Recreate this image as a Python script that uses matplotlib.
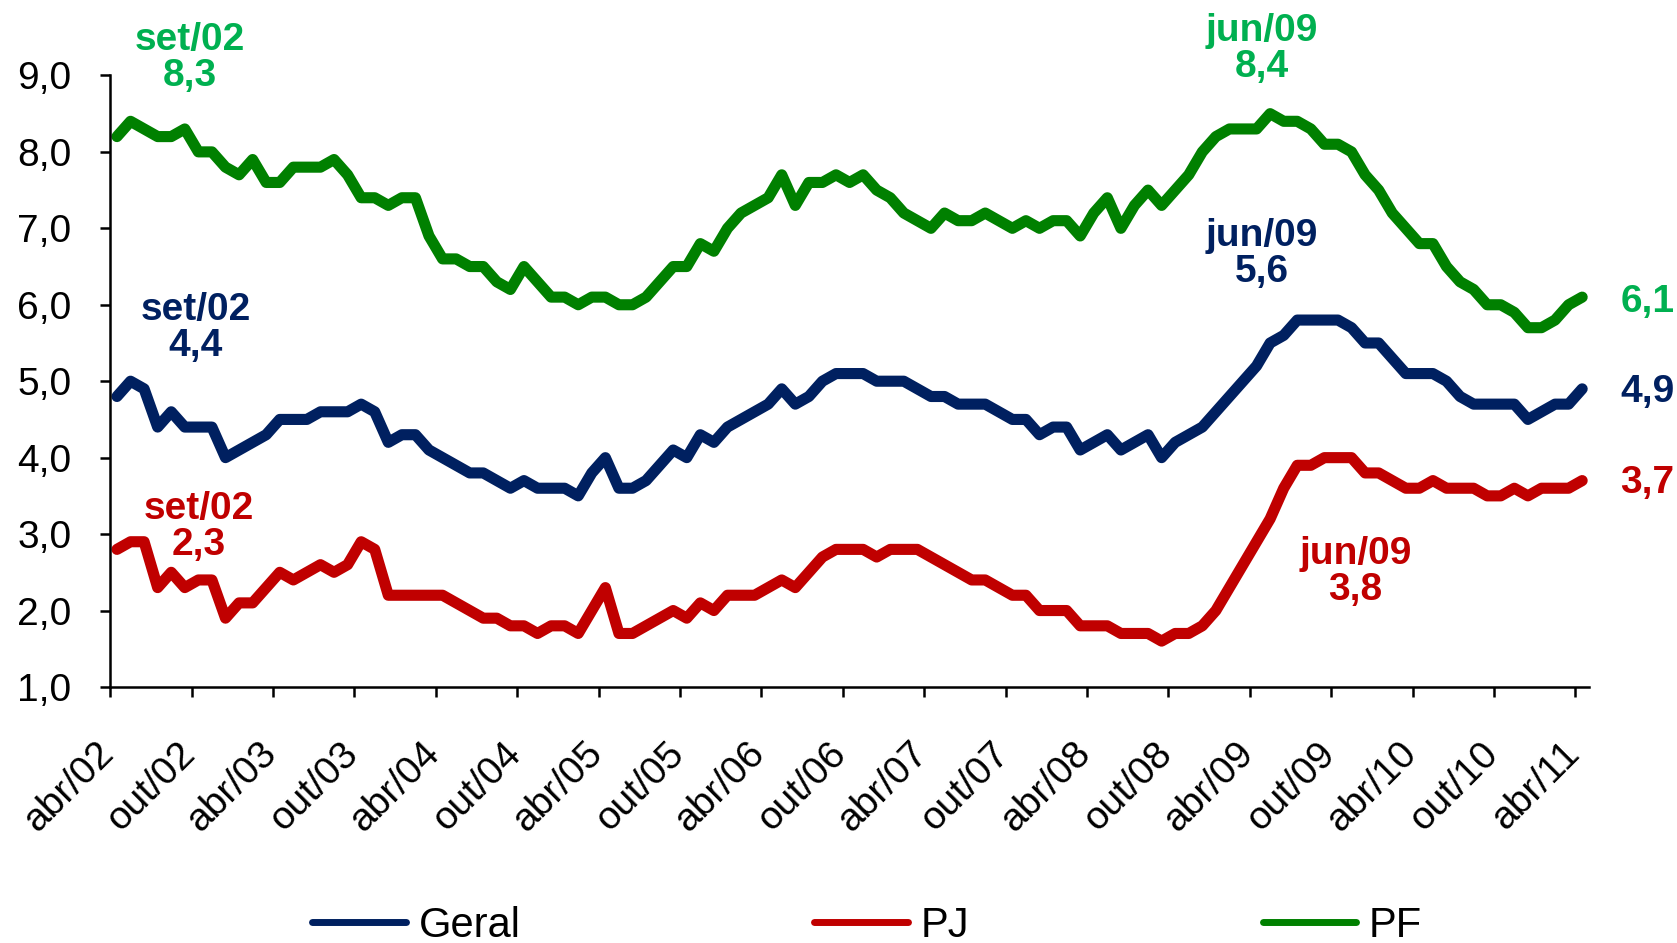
import numpy as np
import matplotlib
matplotlib.use('Agg')
import matplotlib.pyplot as plt
import matplotlib.transforms as mtransforms
from matplotlib.lines import Line2D

plt.rcParams['font.family'] = ['Liberation Sans', 'DejaVu Sans']

# monthly series, abr/02 .. abr/11
geral = [4.8, 5.0, 4.9, 4.4, 4.6, 4.4, 4.4, 4.4, 4.0, 4.1, 4.2, 4.3, 4.5, 4.5, 4.5, 4.6, 4.6, 4.6,
         4.7, 4.6, 4.2, 4.3, 4.3, 4.1, 4.0, 3.9, 3.8, 3.8, 3.7, 3.6, 3.7, 3.6, 3.6, 3.6, 3.5, 3.8,
         4.0, 3.6, 3.6, 3.7, 3.9, 4.1, 4.0, 4.3, 4.2, 4.4, 4.5, 4.6, 4.7, 4.9, 4.7, 4.8, 5.0, 5.1,
         5.1, 5.1, 5.0, 5.0, 5.0, 4.9, 4.8, 4.8, 4.7, 4.7, 4.7, 4.6, 4.5, 4.5, 4.3, 4.4, 4.4, 4.1,
         4.2, 4.3, 4.1, 4.2, 4.3, 4.0, 4.2, 4.3, 4.4, 4.6, 4.8, 5.0, 5.2, 5.5, 5.6, 5.8, 5.8, 5.8,
         5.8, 5.7, 5.5, 5.5, 5.3, 5.1, 5.1, 5.1, 5.0, 4.8, 4.7, 4.7, 4.7, 4.7, 4.5, 4.6, 4.7, 4.7,
         4.9]
pj = [2.8, 2.9, 2.9, 2.3, 2.5, 2.3, 2.4, 2.4, 1.9, 2.1, 2.1, 2.3, 2.5, 2.4, 2.5, 2.6, 2.5, 2.6,
      2.9, 2.8, 2.2, 2.2, 2.2, 2.2, 2.2, 2.1, 2.0, 1.9, 1.9, 1.8, 1.8, 1.7, 1.8, 1.8, 1.7, 2.0,
      2.3, 1.7, 1.7, 1.8, 1.9, 2.0, 1.9, 2.1, 2.0, 2.2, 2.2, 2.2, 2.3, 2.4, 2.3, 2.5, 2.7, 2.8,
      2.8, 2.8, 2.7, 2.8, 2.8, 2.8, 2.7, 2.6, 2.5, 2.4, 2.4, 2.3, 2.2, 2.2, 2.0, 2.0, 2.0, 1.8,
      1.8, 1.8, 1.7, 1.7, 1.7, 1.6, 1.7, 1.7, 1.8, 2.0, 2.3, 2.6, 2.9, 3.2, 3.6, 3.9, 3.9, 4.0,
      4.0, 4.0, 3.8, 3.8, 3.7, 3.6, 3.6, 3.7, 3.6, 3.6, 3.6, 3.5, 3.5, 3.6, 3.5, 3.6, 3.6, 3.6,
      3.7]
pf = [8.2, 8.4, 8.3, 8.2, 8.2, 8.3, 8.0, 8.0, 7.8, 7.7, 7.9, 7.6, 7.6, 7.8, 7.8, 7.8, 7.9, 7.7,
      7.4, 7.4, 7.3, 7.4, 7.4, 6.9, 6.6, 6.6, 6.5, 6.5, 6.3, 6.2, 6.5, 6.3, 6.1, 6.1, 6.0, 6.1,
      6.1, 6.0, 6.0, 6.1, 6.3, 6.5, 6.5, 6.8, 6.7, 7.0, 7.2, 7.3, 7.4, 7.7, 7.3, 7.6, 7.6, 7.7,
      7.6, 7.7, 7.5, 7.4, 7.2, 7.1, 7.0, 7.2, 7.1, 7.1, 7.2, 7.1, 7.0, 7.1, 7.0, 7.1, 7.1, 6.9,
      7.2, 7.4, 7.0, 7.3, 7.5, 7.3, 7.5, 7.7, 8.0, 8.2, 8.3, 8.3, 8.3, 8.5, 8.4, 8.4, 8.3, 8.1,
      8.1, 8.0, 7.7, 7.5, 7.2, 7.0, 6.8, 6.8, 6.5, 6.3, 6.2, 6.0, 6.0, 5.9, 5.7, 5.7, 5.8, 6.0,
      6.1]

tick_labels = ['abr/02', 'out/02', 'abr/03', 'out/03', 'abr/04', 'out/04', 'abr/05', 'out/05',
               'abr/06', 'out/06', 'abr/07', 'out/07', 'abr/08', 'out/08', 'abr/09', 'out/09',
               'abr/10', 'out/10', 'abr/11']

C_GERAL = '#002060'
C_PJ = '#C00000'
C_PF = '#008000'
C_PF_TXT = '#00B050'

x = np.arange(len(geral))

fig = plt.figure(figsize=(16.77, 9.43), dpi=100)
ax = fig.add_axes([0.0657, 0.2715, 0.8818, 0.6485])

for vals, col in [(geral, C_GERAL), (pj, C_PJ), (pf, C_PF)]:
  ax.plot(x, vals, color=col, lw=8, solid_capstyle='round', solid_joinstyle='round', clip_on=False)

ax.set_xlim(-0.5, len(x) - 0.5)
ax.set_ylim(1, 9)

ax.spines['top'].set_visible(False)
ax.spines['right'].set_visible(False)
ax.spines['left'].set_linewidth(1.8)
ax.spines['bottom'].set_linewidth(1.8)

yt = np.arange(1, 10)
ax.set_yticks(yt)
ax.set_yticklabels([('%.1f' % v).replace('.', ',') for v in yt])
ax.tick_params(axis='y', length=7, width=1.8, pad=21, labelsize=28)

# ticks on category boundaries, labels on category centres
ax.set_xticks(np.arange(-0.5, len(x) - 1, 6))
ax.set_xticklabels([])
ax.set_xticks(x[::6], minor=True)
ax.set_xticklabels(tick_labels, minor=True)
ax.tick_params(axis='x', which='major', length=7, width=1.8)
ax.tick_params(axis='x', which='minor', length=0, pad=44, labelsize=28)
shift = mtransforms.ScaledTranslation(-6 / 72, 0, fig.dpi_scale_trans)
for lbl in ax.get_xticklabels(minor=True):
  lbl.set_rotation(45)
  lbl.set_ha('right')
  lbl.set_va('center')
  lbl.set_rotation_mode('anchor')
  lbl.set_transform(lbl.get_transform() + shift)

# annotations
notes = [(5.4, 9.23, 'set/02\n8,3', C_PF_TXT),
         (84.4, 9.35, 'jun/09\n8,4', C_PF_TXT),
         (5.8, 5.69, 'set/02\n4,4', C_GERAL),
         (84.4, 6.67, 'jun/09\n5,6', C_GERAL),
         (6.0, 3.09, 'set/02\n2,3', C_PJ),
         (91.3, 2.51, 'jun/09\n3,8', C_PJ),
         (112.8, 6.04, '6,1', C_PF_TXT),
         (112.8, 4.86, '4,9', C_GERAL),
         (112.8, 3.67, '3,7', C_PJ)]
for nx, ny, txt, col in notes:
  ax.text(nx, ny, txt, color=col, fontsize=28, fontweight='bold', ha='center', va='center',
          linespacing=1.0, clip_on=False)

handles = [Line2D([], [], color=C_GERAL, lw=5, solid_capstyle='round'),
           Line2D([], [], color=C_PJ, lw=5, solid_capstyle='round'),
           Line2D([], [], color=C_PF, lw=5, solid_capstyle='round')]
fig.legend(handles, ['Geral', 'PJ', 'PF'], loc='center', bbox_to_anchor=(0.517, 0.018),
           ncol=3, frameon=False, fontsize=30, handlelength=2.25, handletextpad=0.3,
           columnspacing=7.05, borderpad=0)

fig.savefig('out.png', dpi=100)
